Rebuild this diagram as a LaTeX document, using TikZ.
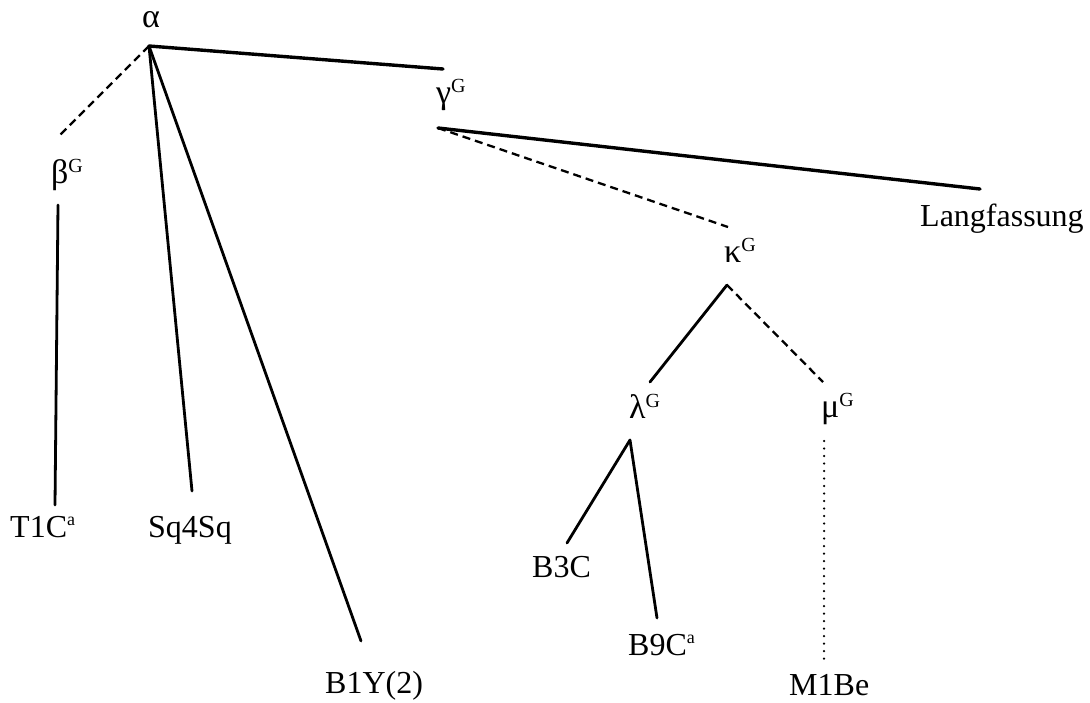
\documentclass[tikz,border=0pt]{standalone}
\usepackage{fontspec}
\setmainfont{Liberation Serif}
% raised small letter after a label
\newcommand{\hi}[1]{\raisebox{11pt}{\fontsize{20}{20}\selectfont #1}}
\newcommand{\hia}[1]{\raisebox{12pt}{\fontsize{18}{18}\selectfont #1}}
\begin{document}
\begin{tikzpicture}[x=1pt,y=-1pt,
  lbl/.style={inner sep=0pt, anchor=base west, font=\fontsize{32}{36}\selectfont},
  greek/.style={lbl, font=\fontsize{34}{36}\selectfont},
  solid edge/.style={line width=2.8pt, line cap=round},
  heavy edge/.style={line width=3.4pt, line cap=round},
  dash edge/.style={line width=2.3pt, dash pattern=on 8pt off 5pt},
  dot edge/.style={line width=2.5pt, line cap=round, dash pattern=on 0pt off 7.5pt}]
\useasboundingbox (0,0) rectangle (1090,702);

% labels
\node[greek] (alpha) at (142,27) {α};
\node[greek] (gamma) at (436,103) {γ\hi{G}};
\node[greek] (beta)  at (51,183) {β\hi{G}};
\node[lbl] (lang)  at (920,226) {Langfassung};
\node[greek] (kappa) at (724,262) {κ\hi{G}};
\node[greek] (lambda) at (629,418) {λ\hi{G}};
\node[greek] (mu)    at (821,417) {μ\hi{G}};
\node[lbl] (t1c)   at (10,537) {T1C\hia{a}};
\node[lbl] (sq)    at (148,537) {Sq4Sq};
\node[lbl] (b3c)   at (532,577) {B3C};
\node[lbl] (b9c)   at (628,655) {B9C\hia{a}};
\node[lbl] (b1y)   at (325,693) {B1Y(2)};
\node[lbl] (m1be)  at (789,695) {M1Be};

% connector ends
\coordinate (aJ) at (149,46);
\coordinate (gIn) at (443,69);
\coordinate (bIn) at (60,135);
\coordinate (bOut) at (58,205);
\coordinate (t1cIn) at (55,505);
\coordinate (sqIn) at (192,491);
\coordinate (b1yIn) at (361,641);
\coordinate (gJ) at (438,128);
\coordinate (langIn) at (980,189);
\coordinate (kIn) at (728,227);
\coordinate (kJ) at (727,285);
\coordinate (lIn) at (650,382);
\coordinate (mIn) at (823,382);
\coordinate (lJ) at (630,440);
\coordinate (b3cIn) at (567,543);
\coordinate (b9cIn) at (657,618);
\coordinate (mJ) at (824,441);
\coordinate (m1beIn) at (824,662);

% edges
\draw[heavy edge] (aJ) -- (gIn);
\draw[dash edge] (aJ) -- (bIn);
\draw[solid edge] (aJ) -- (sqIn);
\draw[solid edge] (aJ) -- (b1yIn);
\draw[solid edge] (bOut) -- (t1cIn);
\draw[heavy edge] (gJ) -- (langIn);
\draw[dash edge] (gJ) -- (kIn);
\draw[solid edge] (kJ) -- (lIn);
\draw[dash edge] (kJ) -- (mIn);
\draw[solid edge] (lJ) -- (b3cIn);
\draw[solid edge] (lJ) -- (b9cIn);
\draw[dot edge] (mJ) -- (m1beIn);
\end{tikzpicture}
\end{document}
